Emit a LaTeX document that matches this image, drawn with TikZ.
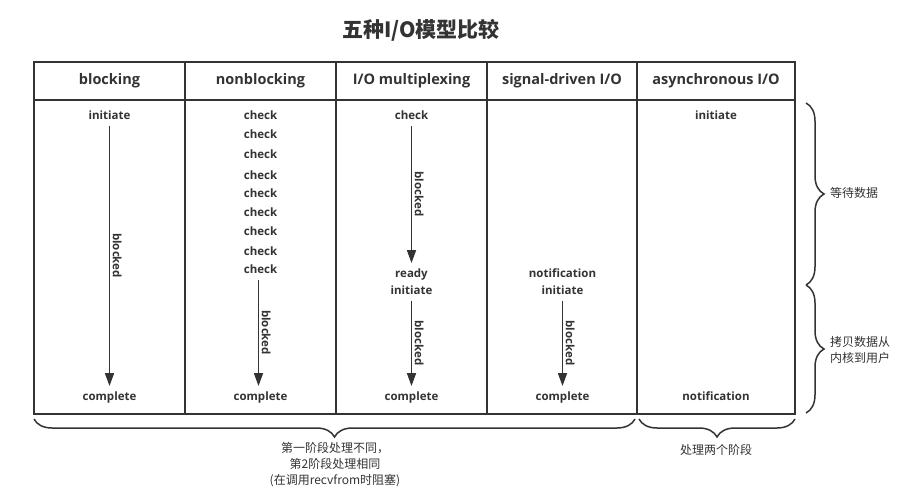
\documentclass[tikz,border=0pt]{standalone}
\usepackage{fontspec}
\setmainfont{Open Sans}
\newfontfamily\cjk{Noto Sans CJK SC}
\usetikzlibrary{arrows.meta,decorations.pathreplacing,positioning}
\definecolor{ink}{HTML}{333333}
\tikzset{
  head/.style={font=\fontsize{14.5}{16}\selectfont\bfseries, text=ink},
  cell/.style={font=\fontsize{11.5}{13}\selectfont\bfseries, text=ink, inner sep=1pt, text height=10.5pt, text depth=1pt},
  lbl/.style={font=\fontsize{11.5}{13}\selectfont\bfseries, text=ink, rotate=-90, anchor=south, inner sep=2.5pt},
  wait/.style={draw=ink, line width=1.7pt, -{Triangle[width=9pt,length=13pt]}, shorten <=4pt, shorten >=3pt},
  note/.style={font=\cjk\fontsize{12}{16}\selectfont, text=ink, align=center, inner sep=0pt},
  curly/.style={draw=ink, line width=1.5pt, decorate, decoration={brace, amplitude=18pt}}
}
\begin{document}
\begin{tikzpicture}[x=1pt,y=-1pt]
\useasboundingbox (0,0) rectangle (908,500);
\node[font=\cjk\fontsize{21}{24}\selectfont\bfseries, text=ink] (title) at (421,30) {五种I/O模型比较};
\draw[ink, line width=1.9pt] (34,62) rectangle (795,414);
\draw[ink, line width=1.9pt] (34,100) -- (795,100);
\foreach \x in {185,336,487,637}
  \draw[ink, line width=1.9pt] (\x,62) -- (\x,414);
\node[head] (h1) at (109.5,81) {blocking};
\node[head] (h2) at (260.5,81) {nonblocking};
\node[head] (h3) at (411.5,81) {I/O multiplexing};
\node[head] (h4) at (562,81) {signal-driven I/O};
\node[head] (h5) at (716,81) {asynchronous I/O};
\node[cell] (init1) at (109.5,115) {initiate};
\node[cell] (comp1) at (109.5,396) {complete};
\draw[wait] (init1) -- node[lbl] {blocked} (comp1);
\foreach \y [count=\i] in {115,134,154,175,193,212,231,251,269}
  \node[cell] (chk\i) at (260.5,\y) {check};
\node[cell] (comp2) at (260.5,396) {complete};
\draw[wait] ([xshift=-2pt]chk9.south) -- node[lbl] {blocked} ([xshift=-2pt]comp2.north);
\node[cell] (chk) at (411.5,115) {check};
\node[cell] (ready) at (411.5,273) {ready};
\node[cell] (init3) at (411.5,290) {initiate};
\node[cell] (comp3) at (411.5,396) {complete};
\draw[wait] (chk) -- node[lbl] {blocked} (ready);
\draw[wait] (init3) -- node[lbl] {blocked} (comp3);
\node[cell] (notif4) at (562.5,273) {notification};
\node[cell] (init4) at (562.5,290) {initiate};
\node[cell] (comp4) at (562.5,396) {complete};
\draw[wait] (init4) -- node[lbl] {blocked} (comp4);
\node[cell] (init5) at (716,115) {initiate};
\node[cell] (notif5) at (716,396) {notification};
\coordinate (r1) at (806,103);
\coordinate (r2) at (806,285);
\coordinate (r3) at (806,413);
\draw[curly] (r1) -- (r2);
\draw[curly] (r2) -- (r3);
\node[note, anchor=west] (wait) at (830,193) {等待数据};
\node[note, anchor=west, align=left] (copy) at (830,350) {拷贝数据从\\内核到用户};
\coordinate (b1) at (34,419);
\coordinate (b2) at (635,419);
\coordinate (b3) at (639,419);
\coordinate (b4) at (795,419);
\draw[curly] (b2) -- (b1);
\draw[curly] (b4) -- (b3);
\node[note] (diff) at (335,465) {第一阶段处理不同，\\第2阶段处理相同\\(在调用recvfrom时阻塞)};
\node[note] (both) at (716,450) {处理两个阶段};
\end{tikzpicture}
\end{document}
